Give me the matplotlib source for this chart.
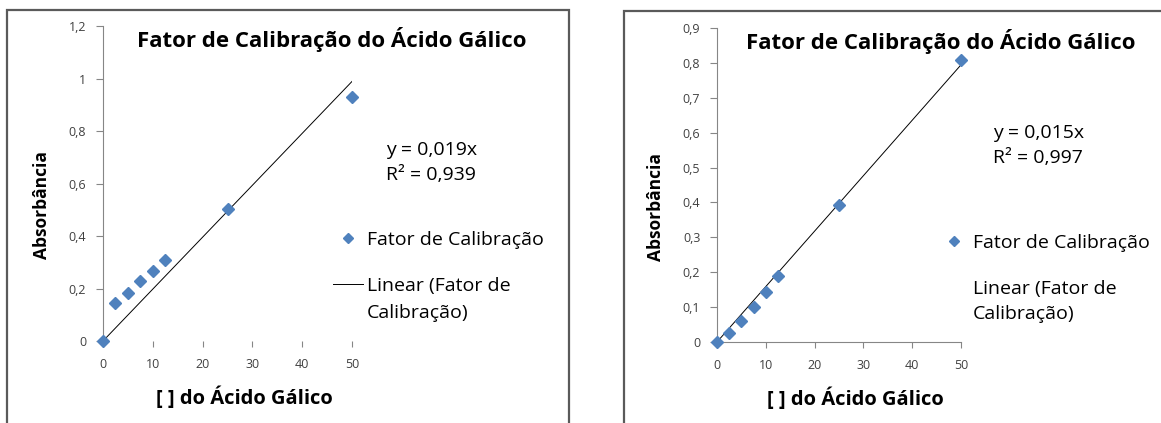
import numpy as np
import matplotlib
matplotlib.use('Agg')
import matplotlib.pyplot as plt
from matplotlib.lines import Line2D
from matplotlib.patches import Rectangle

plt.rcParams['font.family'] = ['Open Sans', 'DejaVu Sans']

# concentracoes (mesmas nos dois graficos)
conc = [0, 2.5, 5, 7.5, 10, 12.5, 25, 50]
# absorbancias
abs_esq = [0, 0.146, 0.184, 0.229, 0.268, 0.309, 0.502, 0.930]
abs_dir = [0, 0.026, 0.061, 0.100, 0.142, 0.188, 0.393, 0.808]
eq_esq = ['y = 0,019x', 'R² = 0,939']
eq_dir = ['y = 0,015x', 'R² = 0,997']
yticks_esq = [0, 0.2, 0.4, 0.6, 0.8, 1.0, 1.2]
yticks_dir = [0, 0.1, 0.2, 0.3, 0.4, 0.5, 0.6, 0.7, 0.8, 0.9]
xticks = [0, 10, 20, 30, 40, 50]

W, H = 1161, 423
fig = plt.figure(figsize=(W/100, H/100), dpi=100)

def fx(px): return px / W
def fy(py): return 1 - py / H

azul = '#4F81BD'
cinza = '#868686'

def painel(ax0, y, yticks, ymax, eq, pos, mostra_linha, eixo_x):
    x0, x1, ybot, ytop = ax0
    ax = fig.add_axes([fx(x0), fy(ybot), fx(x1 - x0), (ybot - ytop) / H])
    x = np.array(conc); yy = np.array(y)
    k = (x * yy).sum() / (x * x).sum()  # reta pela origem
    xs = np.array([0, 50])
    ln, = ax.plot(xs, k * xs, color='black', lw=0.7)
    pts, = ax.plot(conc, y, 'D', color=azul, ms=6.5, mec=azul, ls='none', zorder=3, clip_on=False)
    ax.set_xlim(0, 50)
    ax.set_ylim(0, ymax)
    ax.set_xticks(xticks)
    ax.set_yticks(yticks)
    ax.set_xticklabels([str(t) for t in xticks])
    ax.set_yticklabels([('%g' % t).replace('.', ',') for t in yticks])
    for s in ['top', 'right']:
        ax.spines[s].set_visible(False)
    ax.spines['left'].set_color(cinza)
    ax.spines['bottom'].set_color(cinza)
    ax.spines['bottom'].set_visible(eixo_x)
    ax.tick_params(axis='y', length=5, color=cinza, labelsize=9, labelcolor='#404040', pad=7)
    ax.tick_params(axis='x', length=4, color=cinza, labelsize=9, labelcolor='#404040', pad=8)
    ax.patch.set_alpha(0)

    tx, ty, eqx, eqy, yl, xl, lg = pos
    fig.text(fx(tx), fy(ty), 'Fator de Calibração do Ácido Gálico', ha='center', va='center',
             fontsize=16, fontweight='bold')
    fig.text(fx(eqx), fy(eqy), eq[0], ha='left', va='center', fontsize=14)
    fig.text(fx(eqx), fy(eqy + 25), eq[1], ha='left', va='center', fontsize=14)
    fig.text(fx(yl[0]), fy(yl[1]), 'Absorbância', ha='center', va='center', rotation=90,
             fontsize=12.5, fontweight='bold')
    fig.text(fx(xl[0]), fy(xl[1]), '[ ] do Ácido Gálico', ha='center', va='center',
             fontsize=14.5, fontweight='bold')
    h2 = ln if mostra_linha else Line2D([], [], color='none')
    leg = ax.legend([pts, h2], ['Fator de Calibração', 'Linear (Fator de'],
                    loc='upper left', bbox_to_anchor=(fx(lg[0]), fy(lg[1])),
                    bbox_transform=fig.transFigure, frameon=False, fontsize=14,
                    handlelength=1.55, handletextpad=0.2, labelspacing=1.45,
                    borderpad=0, borderaxespad=0, markerscale=0.75)
    fig.text(fx(lg[0] + 34), fy(lg[2]), 'Calibração)', ha='left', va='center', fontsize=14)

painel((103, 352, 341, 26), abs_esq, yticks_esq, 1.2, eq_esq,
       (332, 40, 386, 150, (42, 205), (244, 398), (333, 231, 313)), True, False)
painel((717, 961, 342, 28), abs_dir, yticks_dir, 0.9, eq_dir,
       (941, 42, 993, 133, (656, 207), (855, 399), (939, 234, 314)), False, True)

# molduras
fig.patches.append(Rectangle((fx(7), fy(440)), fx(569 - 7), (440 - 10) / H, fill=False,
                             ec='#5a5a5a', lw=1.6, transform=fig.transFigure, figure=fig))
fig.patches.append(Rectangle((fx(624), fy(440)), fx(1200 - 624), (440 - 11) / H, fill=False,
                             ec='#5a5a5a', lw=1.6, transform=fig.transFigure, figure=fig))

fig.savefig('out.png', dpi=100)
